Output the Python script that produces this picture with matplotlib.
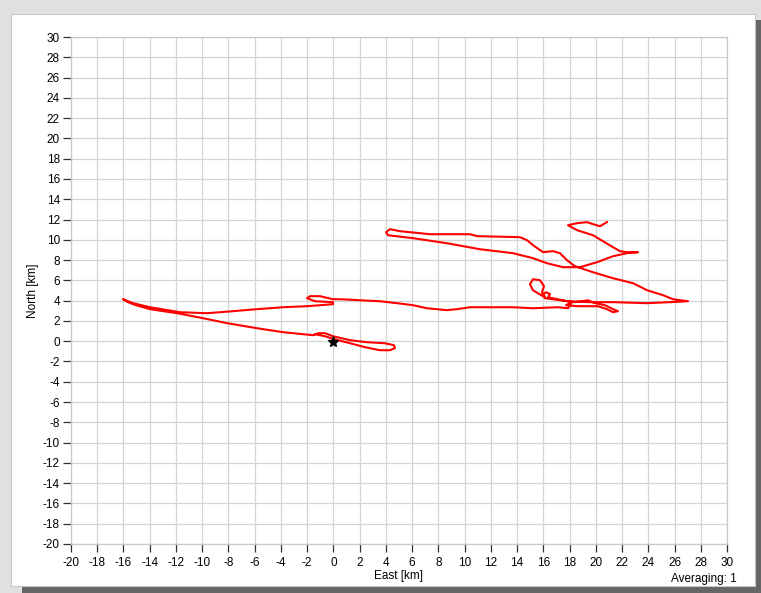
import matplotlib
matplotlib.use("Agg")
import matplotlib.pyplot as plt
from matplotlib.patches import Rectangle
import numpy as np

plt.rcParams["axes.unicode_minus"] = False

# ---- data (km) ----
east_km = [
    20.85, 20.32, 19.79, 19.33, 18.57, 17.88, 18.57, 19.79, 20.55, 21.31, 21.84, 22.38, 23.22,
    22.38, 21.31, 20.09, 18.80, 17.50, 16.28, 15.21, 13.69, 11.17, 8.66, 6.07, 4.16, 4.01, 4.31,
    5.08, 7.36, 8.66, 10.41, 10.95, 14.22, 14.76, 15.21, 15.98, 16.74, 17.27, 17.80, 18.41,
    19.79, 21.31, 22.84, 23.90, 25.12, 25.88, 27.03,
    25.66, 23.90, 21.31, 19.56, 17.80, 16.74,
    16.36, 16.51, 16.20, 15.98, 16.13,
    15.70, 15.21, 14.98, 15.21, 15.75, 16.05, 15.90,
    16.13, 17.27, 18.41, 19.41, 19.94, 20.70, 21.31, 21.69, 21.31, 20.85, 20.17, 19.41, 18.64,
    17.73, 18.18, 17.88,
    17.12, 15.21, 13.69, 10.41, 9.42, 8.66, 7.13, 6.07, 4.85, 3.55, 2.03, 0.50,
    -0.03, -1.02, -1.78, -2.01, -1.40, -0.03, -0.03, -2.01,
    -3.84, -5.82, -7.65, -9.63, -11.69, -13.98, -15.27, -16.04,
    -15.66, -15.05, -13.98, -11.92, -9.94, -8.11, -5.82, -3.84, -1.55,
    -1.17, -0.64, -0.03, 1.27, 2.56, 3.93, 4.61, 4.69, 4.31, 3.55, 2.41, 1.27, 0.05, -0.64, -1.40,
]
north_km = [
    11.74, 11.34, 11.54, 11.74, 11.64, 11.44, 10.95, 10.45, 9.86, 9.27, 8.88, 8.78, 8.78,
    8.68, 8.38, 7.79, 7.30, 7.30, 7.69, 8.19, 8.68, 9.07, 9.66, 10.16, 10.45, 10.75, 11.05,
    10.85, 10.55, 10.55, 10.55, 10.36, 10.26, 9.96, 9.47, 8.78, 8.88, 8.68, 7.99, 7.40,
    6.80, 6.21, 5.72, 5.03, 4.54, 4.14, 3.94,
    3.85, 3.75, 3.85, 3.85, 3.94, 4.24,
    4.34, 4.64, 4.83, 4.64, 4.34,
    4.64, 5.03, 5.62, 6.11, 6.01, 5.42, 4.83,
    4.24, 4.04, 3.85, 4.04, 3.75, 3.55, 3.16, 2.96, 2.86, 3.16, 3.45, 3.45, 3.45,
    3.55, 3.85, 3.25,
    3.35, 3.25, 3.35, 3.35, 3.16, 3.06, 3.25, 3.55, 3.75, 3.94, 4.04, 4.14,
    4.14, 4.44, 4.44, 4.24, 3.94, 3.85, 3.65, 3.45,
    3.35, 3.16, 2.96, 2.76, 2.86, 3.35, 3.75, 4.14,
    3.85, 3.55, 3.16, 2.76, 2.27, 1.78, 1.28, 0.89, 0.59,
    0.79, 0.79, 0.49, 0.10, -0.10, -0.20, -0.39, -0.69, -0.89, -0.89, -0.59, -0.20, 0.20, 0.49, 0.69,
]
origin_east = [0.0]
origin_north = [-0.1]
x_ticks = list(range(-20, 31, 2))
y_ticks = list(range(-20, 31, 2))

W, H = 761, 593
fig = plt.figure(figsize=(W / 100, H / 100), dpi=100, facecolor="#e0e0e0")

def px_rect(x0, y0, x1, y1, **kw):
    fig.patches.append(Rectangle((x0 / W, 1 - y1 / H), (x1 - x0) / W, (y1 - y0) / H,
                                 transform=fig.transFigure, figure=fig, zorder=-10, **kw))

# shadow
px_rect(755, 20, 761, 593, facecolor="#666666", edgecolor="none")
px_rect(22, 586, 761, 593, facecolor="#666666", edgecolor="none")
# white panel
px_rect(10.5, 13.5, 755, 586, facecolor="white", edgecolor="#c8c8c8", linewidth=0.8)

ax = fig.add_axes([71 / W, 1 - 544 / H, (727 - 71) / W, (544 - 37) / H])
ax.set_zorder(5)
ax.set_facecolor("white")
ax.plot(east_km, north_km, color="#ff0000", linewidth=1.5, solid_joinstyle="round", zorder=3)
ax.plot(origin_east, origin_north, marker="*", color="black", markersize=8, linestyle="none", zorder=4)

ax.set_xlim(-20, 30)
ax.set_ylim(-20, 30)
ax.set_xticks(x_ticks)
ax.set_yticks(y_ticks)
ax.grid(True, color="#d4d4d4", linewidth=0.9)
ax.set_axisbelow(True)
for s in ax.spines.values():
    s.set_color("#c8c8c8")
    s.set_linewidth(0.9)
ax.tick_params(axis="both", direction="out", length=6, width=0.9, color="#303030",
               labelsize=8.5, labelcolor="black", pad=2)
ax.tick_params(axis="x", pad=3)
for lab in ax.get_xticklabels() + ax.get_yticklabels():
    lab.set_fontfamily("Liberation Sans")
ax.set_xlabel("East [km]", fontsize=8.5, labelpad=1, family="Liberation Sans")
ax.set_ylabel("North [km]", fontsize=8.5, labelpad=3, family="Liberation Sans")

fig.text(737 / W, 1 - 579 / H, "Averaging: 1", ha="right", va="center", fontsize=8.5,
         family="Liberation Sans",
         bbox=dict(facecolor="white", edgecolor="none", pad=1), zorder=10)

fig.savefig("out.png", dpi=100, facecolor=fig.get_facecolor())
